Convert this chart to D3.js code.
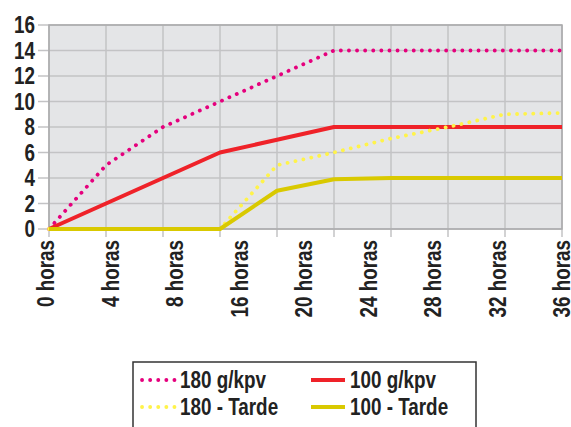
<!DOCTYPE html>
<html>
<head>
<meta charset="utf-8">
<script src="https://cdn.jsdelivr.net/npm/d3@7"></script>
<style>
  body { margin: 0; background: #fff; }
  text { font-family: "Liberation Sans", Arial, sans-serif; font-weight: bold; fill: #222; }
</style>
</head>
<body>
<div class="canva"></div>
<script>
// time points (hours) where values were measured
const hours = [0, 4, 8, 12, 16, 20, 24, 28, 32, 36];
const tickLabels = ["0 horas", "4 horas", "8 horas", "16 horas", "20 horas", "24 horas", "28 horas", "32 horas", "36 horas"];
const yTicks = [0, 2, 4, 6, 8, 10, 12, 14, 16];

const s180 = [0, 5, 8, 10, 12, 14, 14, 14, 14, 14];
const s100 = [0, 2, 4, 6, 7, 8, 8, 8, 8, 8];
const s180t = [0, 0, 0, 0, 5, 6, 7.1, 8, 9, 9.1];
const s100t = [0, 0, 0, 0, 3, 3.9, 4, 4, 4, 4];

const series = [
    { name: "180 g/kpv", values: s180, color: "#e5007d", dotted: true },
    { name: "100 g/kpv", values: s100, color: "#ef2229", dotted: false },
    { name: "180 - Tarde", values: s180t, color: "#fff34a", dotted: true },
    { name: "100 - Tarde", values: s100t, color: "#d9c900", dotted: false }
];

var width = 571, height = 427;
var plot = { left: 49, right: 562, top: 25, bottom: 229 };
var narrow = 0.82; // condensed look of the original font

const svg = d3.select(".canva").append("svg")
    .attr("width", width)
    .attr("height", height)
    .attr("viewBox", [0, 0, width, height]);

const x = d3.scalePoint(hours, [plot.left, plot.right]);
const xl = d3.scalePoint(tickLabels, [plot.left - 3, plot.right]);
const y = d3.scaleLinear([0, 16], [plot.bottom, plot.top]);

// plot background
svg.append("rect")
    .attr("x", plot.left).attr("y", plot.top)
    .attr("width", plot.right - plot.left).attr("height", plot.bottom - plot.top)
    .attr("fill", "#e4e5e7");

// horizontal grid + left ticks
svg.append("g")
    .selectAll("line")
    .data(yTicks)
    .join("line")
    .attr("x1", plot.left - 11).attr("x2", plot.right)
    .attr("y1", d => y(d)).attr("y2", d => y(d))
    .attr("stroke", "#c3c3c5").attr("stroke-width", 1.5);

// vertical grid + bottom ticks
svg.append("g")
    .selectAll("line")
    .data(hours)
    .join("line")
    .attr("x1", d => x(d)).attr("x2", d => x(d))
    .attr("y1", plot.top).attr("y2", plot.bottom + 8)
    .attr("stroke", "#c3c3c5").attr("stroke-width", 1.5);

// border
svg.append("rect")
    .attr("x", plot.left).attr("y", plot.top)
    .attr("width", plot.right - plot.left).attr("height", plot.bottom - plot.top)
    .attr("fill", "none")
    .attr("stroke", "#aaaaac").attr("stroke-width", 1.5);

// y labels
svg.append("g")
    .selectAll("text")
    .data(yTicks)
    .join("text")
    .attr("transform", d => `translate(35,${y(d)}) scale(${narrow},1)`)
    .attr("dy", "0.36em")
    .attr("text-anchor", "end")
    .attr("font-size", 23)
    .text(d => d);

// x labels
svg.append("g")
    .selectAll("text")
    .data(tickLabels)
    .join("text")
    .attr("transform", d => `translate(${xl(d)},240) rotate(-90) scale(${narrow},1)`)
    .attr("dy", "0.36em")
    .attr("text-anchor", "end")
    .attr("font-size", 23)
    .text(d => d);

const line = d3.line()
    .x((d, i) => x(hours[i]))
    .y(d => y(d));

svg.append("g")
    .selectAll("path")
    .data(series)
    .join("path")
    .attr("d", d => line(d.values))
    .attr("fill", "none")
    .attr("stroke", d => d.color)
    .attr("stroke-width", d => d.dotted ? 3.8 : 4)
    .attr("stroke-linecap", d => d.dotted ? "round" : "butt")
    .attr("stroke-linejoin", "round")
    .attr("stroke-dasharray", d => d.dotted ? "0.1 8" : null);

// legend
const legend = svg.append("g");
legend.append("rect")
    .attr("x", 133).attr("y", 362)
    .attr("width", 343).attr("height", 90)
    .attr("fill", "#fff")
    .attr("stroke", "#333").attr("stroke-width", 1.5);

const legendPos = [
    { x: 141, y: 380 },
    { x: 311, y: 380 },
    { x: 141, y: 407 },
    { x: 311, y: 407 }
];

series.forEach((s, i) => {
    const p = legendPos[i];
    legend.append("line")
        .attr("x1", p.x + (s.dotted ? 1 : 0)).attr("x2", p.x + 34)
        .attr("y1", p.y).attr("y2", p.y)
        .attr("stroke", s.color)
        .attr("stroke-width", s.dotted ? 3.8 : 4)
        .attr("stroke-linecap", s.dotted ? "round" : "butt")
        .attr("stroke-dasharray", s.dotted ? "0.1 8" : null);
    legend.append("text")
        .attr("transform", `translate(${p.x + 39},${p.y + 8}) scale(${narrow},1)`)
        .attr("font-size", 23)
        .text(s.name);
});
</script>
</body>
</html>
